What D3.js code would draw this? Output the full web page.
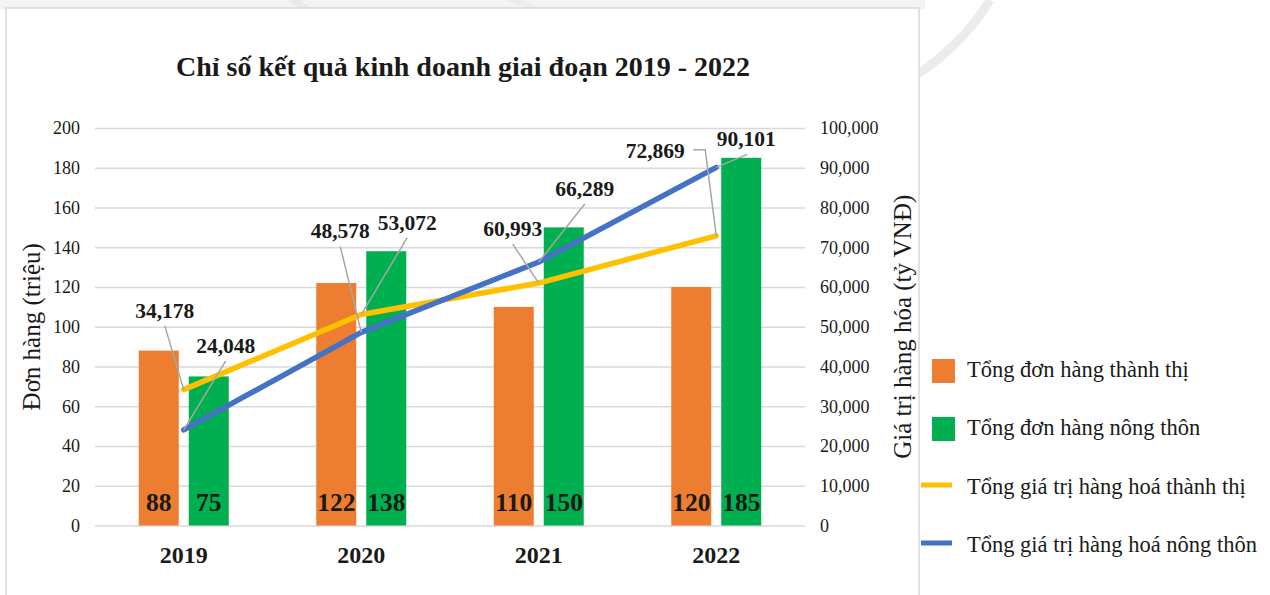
<!DOCTYPE html>
<html>
<head>
<meta charset="utf-8">
<script src="https://cdn.jsdelivr.net/npm/d3@7"></script>
<style>
  body { margin: 0; background: #fff; }
  svg text { font-family: "Liberation Serif", "Times New Roman", serif; fill: #1a1a1a; }
</style>
</head>
<body>
<svg id="chart" width="1270" height="595"></svg>
<script>
"use strict";

// data
const years = ['2019', '2020', '2021', '2022'];
const urbanOrders = [88, 122, 110, 120];          // Tổng đơn hàng thành thị (triệu)
const ruralOrders = [75, 138, 150, 185];          // Tổng đơn hàng nông thôn (triệu)
const urbanValue = [34178, 53072, 60993, 72869];  // Tổng giá trị hàng hoá thành thị (tỷ VNĐ)
const ruralValue = [24048, 48578, 66289, 90101];  // Tổng giá trị hàng hoá nông thôn (tỷ VNĐ)
const leftTicks = [0, 20, 40, 60, 80, 100, 120, 140, 160, 180, 200];
const rightTicks = [0, 10000, 20000, 30000, 40000, 50000, 60000, 70000, 80000, 90000, 100000];
const legendLabels = [
  'Tổng đơn hàng thành thị',
  'Tổng đơn hàng nông thôn',
  'Tổng giá trị hàng hoá thành thị',
  'Tổng giá trị hàng hoá nông thôn'
];

const COLORS = { urban: '#ED7D31', rural: '#00B050', urbanLine: '#FFC000', ruralLine: '#4472C4' };

// label placement for the line values (offset of label from point, in px)
const urbanLabelPos = [[-19, -72], [46, -85], [-26, -47], [-61, -78]];
const ruralLabelPos = [[42, -77], [-21, -94], [46, -66], [30, -21]];

const svg = d3.select('#chart');
const plot = { left: 95, right: 805, top: 128, bottom: 525.5 };

// faint background watermark
const bg = svg.append('g');
bg.append('rect').attr('x', 0).attr('y', 0).attr('width', 925).attr('height', 9).attr('fill', '#f3f3f3');
bg.append('path').attr('d', 'M288,0 L300,0 L312,9 L300,9 Z').attr('fill', '#e9e9e9');
bg.append('path').attr('d', 'M505,0 L520,0 L545,9 L530,9 Z').attr('fill', '#ececec');
bg.append('path').attr('d', 'M990,0 Q962,46 912,78')
  .attr('fill', 'none').attr('stroke', '#ececec').attr('stroke-width', 9);

// chart frame
svg.append('rect')
  .attr('x', 6).attr('y', 8).attr('width', 913).attr('height', 600)
  .attr('fill', '#fff').attr('stroke', '#d9d9d9').attr('stroke-width', 1.5);

const x = d3.scaleBand().domain(years).range([plot.left, plot.right]).padding(0);
const xInner = d3.scaleBand().domain([0, 1]).range([-45, 45]).paddingInner(0.2);
const y = d3.scaleLinear().domain([0, 200]).range([plot.bottom, plot.top]);
const y2 = d3.scaleLinear().domain([0, 100000]).range([plot.bottom, plot.top]);
const cx = (d) => x(d) + x.bandwidth() / 2;

// left axis + gridlines
const gLeft = svg.append('g')
  .attr('transform', `translate(${plot.left},0)`)
  .call(d3.axisLeft(y).tickValues(leftTicks).tickSize(-(plot.right - plot.left)).tickPadding(15));
gLeft.select('.domain').remove();
gLeft.selectAll('line').attr('stroke', '#d9d9d9').attr('stroke-width', 1.5);
gLeft.selectAll('text').attr('font-size', 18).attr('fill', '#1a1a1a');

// right axis
const gRight = svg.append('g')
  .attr('transform', `translate(${plot.right},0)`)
  .call(d3.axisRight(y2).tickValues(rightTicks).tickSize(0).tickPadding(15).tickFormat(d3.format(',')));
gRight.select('.domain').remove();
gRight.selectAll('text').attr('font-size', 18).attr('fill', '#1a1a1a');

// bottom axis
const gBottom = svg.append('g')
  .attr('transform', `translate(0,${plot.bottom})`)
  .call(d3.axisBottom(x).tickSize(0));
gBottom.select('.domain').remove();
gBottom.selectAll('text')
  .attr('y', 37).attr('dy', 0)
  .attr('font-size', 24).attr('font-weight', 'bold').attr('fill', '#000');

// bars
const barSeries = [
  { values: urbanOrders, color: COLORS.urban, slot: 0 },
  { values: ruralOrders, color: COLORS.rural, slot: 1 }
];
barSeries.forEach((s) => {
  const g = svg.append('g');
  g.selectAll('rect').data(years).join('rect')
    .attr('x', (d) => cx(d) + xInner(s.slot))
    .attr('width', xInner.bandwidth())
    .attr('y', (d, i) => y(s.values[i]))
    .attr('height', (d, i) => y(0) - y(s.values[i]))
    .attr('fill', s.color);
  g.selectAll('text').data(years).join('text')
    .attr('x', (d) => cx(d) + xInner(s.slot) + xInner.bandwidth() / 2)
    .attr('y', 511)
    .attr('text-anchor', 'middle')
    .attr('font-size', 25.5).attr('font-weight', 'bold').attr('fill', '#000')
    .text((d, i) => s.values[i]);
});

// lines
const lineSeries = [
  { values: urbanValue, color: COLORS.urbanLine, labels: urbanLabelPos },
  { values: ruralValue, color: COLORS.ruralLine, labels: ruralLabelPos }
];
const line = d3.line().x((d) => d[0]).y((d) => d[1]);
lineSeries.forEach((s) => {
  const pts = years.map((d, i) => [cx(d), y2(s.values[i])]);
  svg.append('path').datum(pts)
    .attr('d', line)
    .attr('fill', 'none').attr('stroke', s.color).attr('stroke-width', 5.5)
    .attr('stroke-linecap', 'round').attr('stroke-linejoin', 'round');
});

// value labels with leader lines
const fmt = d3.format(',');
lineSeries.forEach((s) => {
  const g = svg.append('g');
  years.forEach((d, i) => {
    const px = cx(d), py = y2(s.values[i]);
    const lx = px + s.labels[i][0], ly = py + s.labels[i][1];
    let leader;
    if (s.values[i] === 72869) {
      // elbow leader to the right of the label
      leader = [[lx + 38, ly - 8], [lx + 50, ly - 8], [px, py]];
    } else {
      leader = [[lx + (i === 3 ? 1 : 0), ly + 8], [px, py]];
    }
    g.append('path').datum(leader).attr('d', line)
      .attr('fill', 'none').attr('stroke', '#a6a6a6').attr('stroke-width', 1.5);
    g.append('text')
      .attr('x', lx).attr('y', ly)
      .attr('text-anchor', 'middle')
      .attr('font-size', 21.5).attr('font-weight', 'bold').attr('fill', '#000')
      .text(fmt(s.values[i]));
  });
});

// title
svg.append('text')
  .attr('x', 463).attr('y', 76)
  .attr('text-anchor', 'middle')
  .attr('font-size', 28).attr('font-weight', 'bold').attr('fill', '#000')
  .text('Chỉ số kết quả kinh doanh giai đoạn 2019 - 2022');

// axis titles
const midY = (plot.top + plot.bottom) / 2;
svg.append('text')
  .attr('transform', `translate(40,${midY}) rotate(-90)`)
  .attr('text-anchor', 'middle').attr('font-size', 25)
  .text('Đơn hàng (triệu)');
svg.append('text')
  .attr('transform', `translate(911,${midY}) rotate(-90)`)
  .attr('text-anchor', 'middle').attr('font-size', 25)
  .text('Giá trị hàng hóa (tỷ VNĐ)');

// legend
const legend = svg.append('g');
const legendRows = [371, 429, 488, 546];
legendLabels.forEach((label, i) => {
  const ly = legendRows[i];
  if (i < 2) {
    legend.append('rect')
      .attr('x', 932).attr('y', ly - 12).attr('width', 23).attr('height', 24)
      .attr('fill', i === 0 ? COLORS.urban : COLORS.rural);
  } else {
    legend.append('line')
      .attr('x1', 921).attr('x2', 952).attr('y1', ly - 3).attr('y2', ly - 3)
      .attr('stroke', i === 2 ? COLORS.urbanLine : COLORS.ruralLine).attr('stroke-width', 5);
  }
  legend.append('text')
    .attr('x', 967).attr('y', ly + 6)
    .attr('font-size', 22.5)
    .text(label);
});
</script>
</body>
</html>
